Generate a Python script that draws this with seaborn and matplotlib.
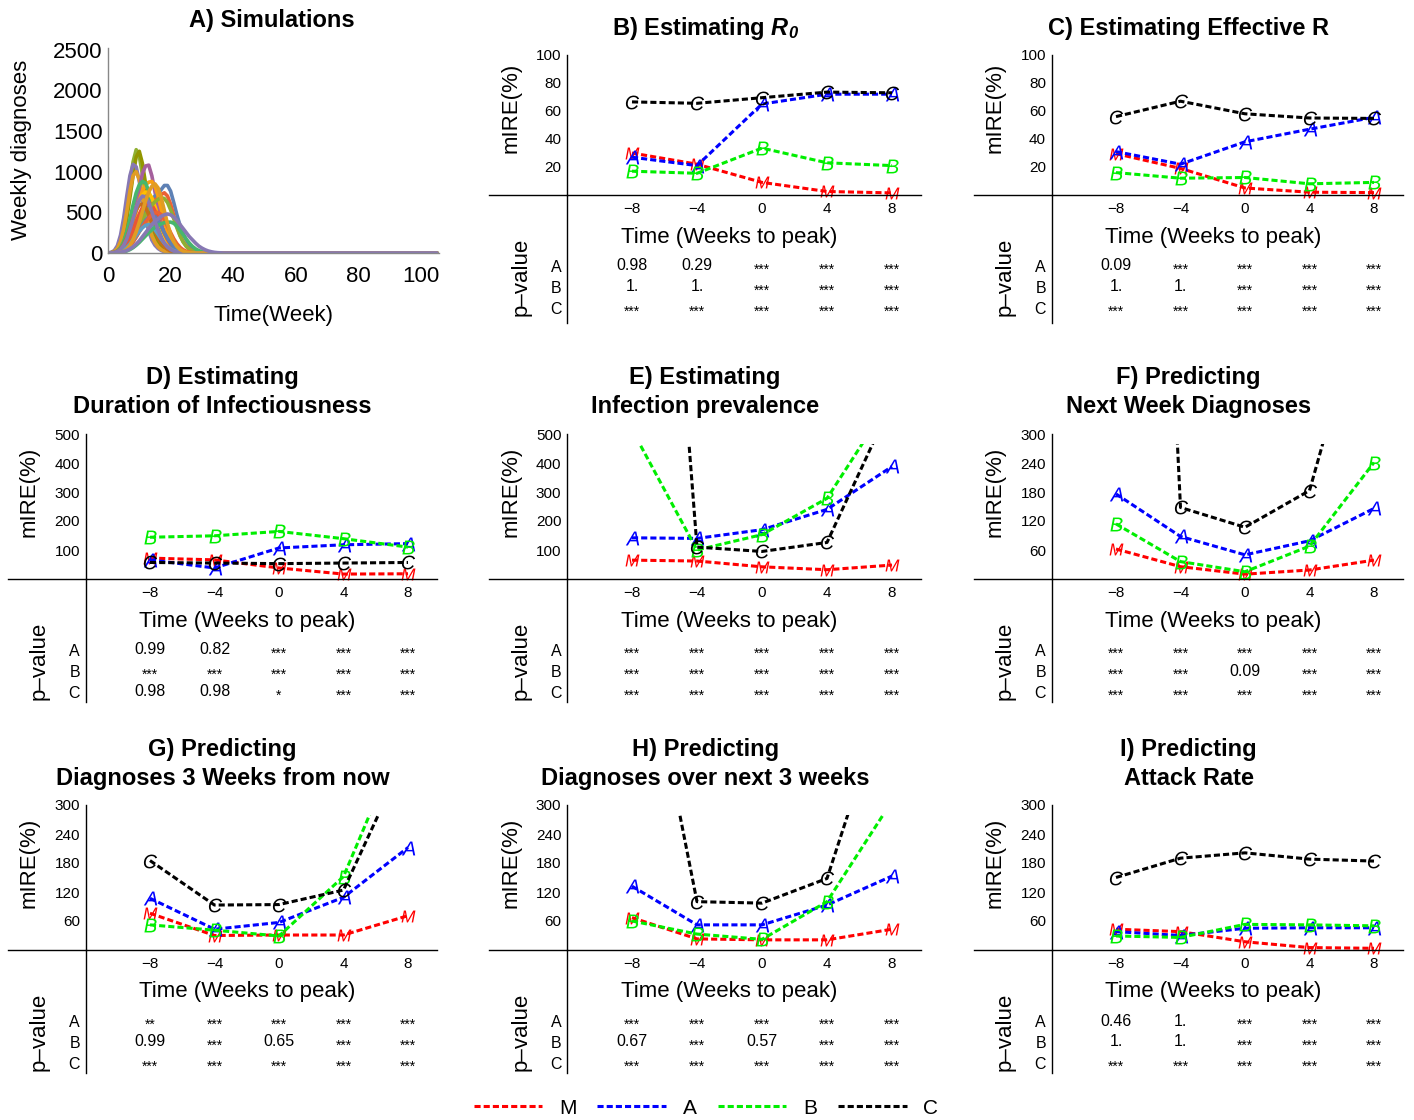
import matplotlib
matplotlib.use("Agg")
import matplotlib.pyplot as plt
import seaborn as sns
import pandas as pd
from matplotlib.lines import Line2D
from matplotlib.patches import Rectangle
from matplotlib.ticker import MultipleLocator
from matplotlib.transforms import offset_copy

sns.set_style("white")
plt.rcParams['font.family'] = ['Liberation Sans', 'DejaVu Sans']
plt.rcParams['mathtext.fontset'] = 'custom'
plt.rcParams['mathtext.rm'] = 'Liberation Sans'
plt.rcParams['mathtext.it'] = 'Liberation Sans:italic'
plt.rcParams['mathtext.bf'] = 'Liberation Sans:bold:italic'
for key in ['text.color', 'axes.labelcolor', 'xtick.color', 'ytick.color', 'axes.edgecolor']:
    plt.rcParams[key] = 'black'

# ---------------- data ----------------
weeks = [-8, -4, 0, 4, 8]
methods = ["M", "A", "B", "C"]
method_colors = {"M": "#ff0000", "A": "#0000ff", "B": "#00ee00", "C": "#000000"}

# mIRE (%) per method
r0_mire = {"M": [30, 22, 9, 2.5, 1.5], "A": [27, 21, 65, 72, 72],
           "B": [17, 15.5, 33.5, 23, 21], "C": [66.5, 65.5, 69.5, 73.5, 73]}
reff_mire = {"M": [29.5, 19, 5, 2, 1.7], "A": [31, 22, 38, 47, 55.5],
             "B": [16, 12, 12.5, 8, 9], "C": [56, 67, 58, 55, 54.7]}
dur_mire = {"M": [72, 66, 38, 17, 18], "A": [66, 38, 107, 118, 122],
            "B": [144, 149, 164, 139, 110], "C": [57, 55, 53, 55, 57]}
prev_mire = {"M": [65, 62, 42, 32, 48], "A": [142, 140, 170, 240, 388],
             "B": [515, 100, 153, 278, 625], "C": [3000, 110, 95, 126, 610]}
next_mire = {"M": [62, 25.5, 10, 18.6, 39], "A": [176, 88, 50, 79, 146],
             "B": [114, 36, 15, 68, 241], "C": [2900, 148, 107, 183, 655]}
wk3_mire = {"M": [76, 30, 31, 31, 71], "A": [107, 43, 57, 109, 212],
            "B": [52, 41, 29, 152, 468], "C": [185, 93, 94, 124, 412]}
over3_mire = {"M": [67, 23, 21, 21, 43], "A": [132, 52, 52, 93, 153],
              "B": [60, 33, 22, 100, 308], "C": [780, 100, 97, 148, 560]}
attack_mire = {"M": [43, 38, 17, 5, 3.5], "A": [38, 30, 45, 46, 46],
               "B": [29, 26, 53, 52, 50], "C": [150, 190, 201, 188, 184]}

S = "***"
r0_p = [["0.98", "0.29", S, S, S], ["1.", "1.", S, S, S], [S] * 5]
reff_p = [["0.09", S, S, S, S], ["1.", "1.", S, S, S], [S] * 5]
dur_p = [["0.99", "0.82", S, S, S], [S] * 5, ["0.98", "0.98", "*", S, S]]
prev_p = [[S] * 5, [S] * 5, [S] * 5]
next_p = [[S] * 5, [S, S, "0.09", S, S], [S] * 5]
wk3_p = [["**", S, S, S, S], ["0.99", S, "0.65", S, S], [S] * 5]
over3_p = [[S] * 5, ["0.67", S, "0.57", S, S], [S] * 5]
attack_p = [["0.46", "1.", S, S, S], ["1.", "1.", S, S, S], [S] * 5]

# simulated weekly diagnoses (from week 0), flat at zero afterwards
sim_curves = [
    [0, 5, 20, 60, 150, 320, 560, 850, 1120, 1270, 1190, 960, 710, 490, 320, 200, 120, 70, 40, 22, 12, 6, 3, 1],
    [0, 3, 12, 40, 100, 220, 420, 680, 950, 1180, 1250, 1100, 850, 600, 400, 250, 150, 90, 50, 28, 15, 8, 4, 2],
    [0, 8, 30, 90, 220, 430, 700, 950, 1090, 1060, 880, 640, 430, 270, 160, 95, 55, 30, 16, 8, 4, 2],
    [0, 4, 18, 55, 140, 290, 510, 760, 950, 1000, 900, 700, 500, 330, 210, 130, 75, 42, 23, 12, 6, 3],
    [0, 1, 4, 12, 30, 70, 140, 250, 400, 590, 800, 980, 1070, 1080, 950, 750, 550, 380, 250, 160, 100, 60, 35, 20, 10, 5, 2],
    [0, 1, 3, 8, 18, 35, 65, 110, 170, 250, 340, 430, 520, 600, 660, 700, 730, 780, 830, 830, 760, 620, 470, 340, 240, 160, 100, 60, 35, 20, 10, 5, 2],
    [0, 1, 3, 8, 20, 45, 90, 160, 250, 350, 450, 530, 590, 640, 660, 650, 680, 720, 740, 700, 600, 460, 330, 220, 140, 85, 50, 28, 15, 8, 4, 2],
    [0, 1, 4, 12, 30, 70, 140, 240, 370, 510, 650, 760, 840, 870, 880, 820, 700, 540, 390, 260, 160, 95, 55, 30, 16, 8, 4, 2],
    [0, 2, 8, 25, 65, 140, 260, 420, 590, 740, 840, 880, 860, 760, 610, 450, 310, 200, 120, 70, 40, 22, 12, 6, 3],
    [0, 1, 5, 15, 38, 85, 160, 270, 400, 530, 640, 710, 750, 740, 680, 570, 440, 320, 220, 140, 85, 50, 28, 15, 8, 4],
    [0, 1, 3, 10, 25, 55, 110, 190, 290, 390, 480, 560, 610, 620, 590, 520, 430, 330, 240, 165, 105, 65, 38, 21, 11, 5, 2],
    [0, 1, 2, 6, 14, 30, 60, 105, 170, 250, 330, 410, 480, 540, 590, 630, 660, 680, 670, 620, 530, 420, 310, 210, 135, 80, 45, 24, 12, 6, 3],
    [0, 0, 2, 5, 12, 26, 50, 90, 140, 200, 270, 340, 400, 445, 470, 450, 400, 330, 250, 180, 120, 75, 45, 25, 13, 6, 3],
    [0, 2, 7, 20, 50, 105, 190, 300, 420, 530, 590, 600, 560, 470, 370, 270, 185, 120, 75, 45, 25, 14, 7, 3],
    [0, 0, 2, 5, 12, 25, 48, 85, 135, 195, 260, 320, 380, 430, 470, 495, 500, 470, 410, 330, 250, 175, 115, 70, 40, 22, 11, 5, 2],
    [0, 1, 3, 8, 18, 38, 68, 110, 160, 215, 265, 310, 340, 350, 330, 285, 230, 170, 120, 80, 50, 30, 17, 9, 4, 2],
    [0, 0, 1, 3, 7, 14, 25, 42, 65, 95, 130, 170, 210, 250, 285, 315, 340, 360, 372, 378, 380, 365, 330, 280, 225, 170, 120, 80, 50, 30, 17, 9, 4, 2],
    [0, 2, 6, 18, 45, 95, 175, 290, 420, 550, 650, 700, 690, 620, 510, 390, 280, 190, 120, 72, 42, 23, 12, 6, 3],
    [0, 0, 1, 3, 8, 20, 45, 90, 160, 260, 380, 510, 640, 750, 820, 850, 800, 680, 520, 360, 230, 140, 80, 44, 23, 11, 5, 2],
    [0, 1, 2, 5, 10, 18, 30, 50, 75, 110, 150, 200, 250, 300, 350, 390, 420, 450, 470, 480, 470, 440, 400, 350, 300, 250, 200, 160, 120, 85, 60, 40, 25, 15, 8, 4, 2],
]
sim_colors = ["#8fb032", "#929600", "#8778b3", "#e19c24", "#a5609d", "#5e81b5", "#eb6235",
              "#f89f13", "#47b66d", "#ffbf00", "#e95536", "#8fb032", "#5e81b5", "#c56e1a",
              "#eb6235", "#5d9ec7", "#47b66d", "#8778b3", "#e19c24", "#8778b3"]
sim_weeks = list(range(0, 106))

# ---------------- layout helpers ----------------
W, H = 1414, 1120
fig = plt.figure(figsize=(W / 100, H / 100), dpi=100)


def px_axes(left, top, width, height):
    return fig.add_axes([left / W, 1 - (top + height) / H, width / W, height / H])


def fig_text(x, y, s, **kw):
    return fig.text(x / W, 1 - y / H, s, **kw)


# ---------------- panel A ----------------
axA = px_axes(108, 48, 331, 205)
sim_df = pd.DataFrame({
    "week": sim_weeks * len(sim_curves),
    "cases": [v for c in sim_curves for v in (c + [0] * (len(sim_weeks) - len(c)))],
    "sim": [f"s{i:02d}" for i in range(len(sim_curves)) for _ in sim_weeks],
})
sns.lineplot(data=sim_df, x="week", y="cases", hue="sim", palette=sim_colors,
             linewidth=2.6, errorbar=None, legend=False, ax=axA)
axA.set_xlim(0, 105.7)
axA.set_ylim(0, 2520)
axA.set_xticks([0, 20, 40, 60, 80, 100])
axA.set_yticks([0, 500, 1000, 1500, 2000, 2500])
axA.xaxis.set_minor_locator(MultipleLocator(5))
axA.yaxis.set_minor_locator(MultipleLocator(100))
axA.spines[['top', 'right']].set_visible(False)
for sp in ['left', 'bottom']:
    axA.spines[sp].set_color('#888888')
    axA.spines[sp].set_linewidth(1.0)
axA.tick_params(which='both', direction='in', color='#888888', labelsize=16, labelcolor='black')
axA.tick_params(which='major', length=6)
axA.tick_params(which='minor', length=3)
axA.tick_params(axis='x', pad=9)
axA.tick_params(axis='y', pad=4)
axA.set_xlabel("")
axA.set_ylabel("")
fig_text(272, 20, "A) Simulations", ha='center', va='center', fontsize=17, fontweight='bold')
fig_text(22, 150, "Weekly diagnoses", ha='center', va='center', rotation=90, fontsize=16)
fig_text(273, 316, "Time(Week)", ha='center', va='center', fontsize=16)

# ---------------- panels B-I ----------------
XMIN, XMAX, YSPINE = -16.8, 9.8, -12
col_geom = {1: (150, 408), 2: (632, 892), 3: (1116, 1374)}   # px of week -8 and week 8
row_geom = {1: (55, 195, 323), 2: (434, 579, 702), 3: (805, 950, 1073)}
title_y = {1: 28, 2: 392, 3: 764}

panels = [
    ("B) Estimating $\\mathbf{R_0}$", r0_mire, r0_p, 100, [20, 40, 60, 80, 100], 2, 1),
    ("C) Estimating Effective R", reff_mire, reff_p, 100, [20, 40, 60, 80, 100], 3, 1),
    ("D) Estimating\nDuration of Infectiousness", dur_mire, dur_p, 500, [100, 200, 300, 400, 500], 1, 2),
    ("E) Estimating\nInfection prevalence", prev_mire, prev_p, 500, [100, 200, 300, 400, 500], 2, 2),
    ("F) Predicting\nNext Week Diagnoses", next_mire, next_p, 300, [60, 120, 180, 240, 300], 3, 2),
    ("G) Predicting\nDiagnoses 3 Weeks from now", wk3_mire, wk3_p, 300, [60, 120, 180, 240, 300], 1, 3),
    ("H) Predicting\nDiagnoses over next 3 weeks", over3_mire, over3_p, 300, [60, 120, 180, 240, 300], 2, 3),
    ("I) Predicting\nAttack Rate", attack_mire, attack_p, 300, [60, 120, 180, 240, 300], 3, 3),
]

dash = (2.0, 1.0)
for title, mire, pvals, ymax, yticks, col, row in panels:
    xm8, xp8 = col_geom[col]
    ppu = (xp8 - xm8) / 16
    left = xm8 - (-8 - XMIN) * ppu
    width = (XMAX - XMIN) * ppu
    top, zero, bottom = row_geom[row]
    spine_px = xm8 - 4 * ppu

    ax = px_axes(left, top, width, zero - top)
    axp = px_axes(left, zero, width, bottom - zero)

    df = pd.DataFrame({
        "week": weeks * len(methods),
        "mire": [v for m in methods for v in mire[m]],
        "method": [m for m in methods for _ in weeks],
    })
    sns.lineplot(data=df, x="week", y="mire", hue="method", style="method",
                 hue_order=methods, style_order=methods, palette=method_colors,
                 dashes={m: dash for m in methods},
                 markers={m: f"${m}$" for m in methods},
                 markersize=10, markeredgewidth=0, linewidth=2.2,
                 errorbar=None, legend=False, ax=ax)
    clip = Rectangle((XMIN, -0.25 * ymax), XMAX - XMIN, 1.18 * ymax, transform=ax.transData)
    for ln in ax.lines:
        ln.set_clip_path(clip)

    ax.set_xlim(XMIN, XMAX)
    ax.set_ylim(0, ymax)
    ax.set_xticks(weeks)
    ax.set_yticks(yticks)
    ax.spines['left'].set_position(('data', YSPINE))
    ax.spines[['top', 'right']].set_visible(False)
    for sp in ['left', 'bottom']:
        ax.spines[sp].set_linewidth(1.0)
    ax.tick_params(direction='in', length=4, width=1, labelsize=11)
    ax.tick_params(axis='x', pad=5)
    ax.tick_params(axis='y', pad=4)
    ax.set_xlabel("")
    ax.set_ylabel("")
    ax.patch.set_alpha(0)

    # p-value table
    axp.set_xlim(XMIN, XMAX)
    ptop = 1 - 71 / 21
    axp.set_ylim(ptop + (bottom - zero) / 21, ptop)
    axp.set_yticks([1, 2, 3], ["A", "B", "C"])
    axp.set_xticks([])
    axp.spines['left'].set_position(('data', YSPINE))
    axp.spines[['top', 'right', 'bottom']].set_visible(False)
    axp.spines['left'].set_linewidth(1.0)
    axp.tick_params(direction='in', length=4, width=1, labelsize=11.5, pad=4)
    axp.patch.set_alpha(0)
    star_tr = offset_copy(axp.transData, fig=fig, x=0, y=-3, units='points')
    for r, vals in enumerate(pvals):
        for w, s in zip(weeks, vals):
            if s.startswith("*"):
                axp.text(w, r + 1, s, ha='center', va='center', fontsize=10, transform=star_tr)
            else:
                axp.text(w, r + 1, s, ha='center', va='center', fontsize=11.5)

    fig_text(left + width / 2, title_y[row], title, ha='center', va='center',
             fontsize=17, fontweight='bold', linespacing=1.3)
    fig_text(spine_px - 56, zero - 87, "mIRE(%)", ha='center', va='center', rotation=90, fontsize=16)
    fig_text(spine_px - 46, zero + 82, "p\u2013value", ha='center', va='center', rotation=90, fontsize=16)
    fig_text(left + (-2 - XMIN) * ppu, zero + 42, "Time (Weeks to peak)", ha='center', va='center', fontsize=16)

# ---------------- legend ----------------
handles = [Line2D([0], [0], color=method_colors[m], lw=2.2, dashes=dash) for m in methods]
fig.legend(handles, methods, loc='center', bbox_to_anchor=(706 / W, 1 - 1108 / H), ncol=4,
           frameon=False, fontsize=15, handlelength=3.3, handletextpad=0.8, columnspacing=1.0)

fig.savefig("out.png", dpi=100)
